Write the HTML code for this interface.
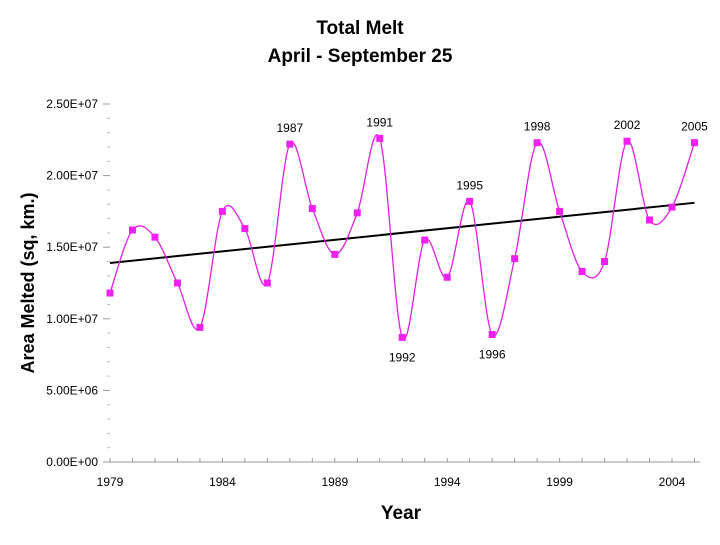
<!DOCTYPE html>
<html><head><meta charset="utf-8"><style>
body{margin:0;background:#fff;width:720px;height:540px;overflow:hidden}
text{font-family:"Liberation Sans",Arial,sans-serif}
</style></head><body>
<svg id="chart" width="720" height="540" viewBox="0 0 720 540">
<text x="360" y="34" text-anchor="middle" font-size="19" font-weight="bold">Total Melt</text>
<text x="360" y="62" text-anchor="middle" font-size="19" font-weight="bold">April - September 25</text>
<text transform="translate(34,283) rotate(-90)" text-anchor="middle" font-size="18" font-weight="bold">Area Melted (sq, km.)</text>
<text x="401" y="519" text-anchor="middle" font-size="19" font-weight="bold">Year</text>
<g id="axes"></g><g id="marks"></g>
</svg>
<script>
const years=[1979,1980,1981,1982,1983,1984,1985,1986,1987,1988,1989,1990,1991,1992,1993,1994,1995,1996,1997,1998,1999,2000,2001,2002,2003,2004,2005];
const melt=[11.8,16.2,15.7,12.5,9.4,17.5,16.3,12.5,22.2,17.7,14.5,17.4,22.6,8.7,15.5,12.9,18.2,8.9,14.2,22.3,17.5,13.3,14.0,22.4,16.9,17.8,22.3];
const labeledYears=[1987,1991,1995,1998,2002,2005,1992,1996];
const trend=[13.9,18.1];
const yTicks=[0,5,10,15,20,25];
const yTickLabels=["0.00E+00","5.00E+06","1.00E+07","1.50E+07","2.00E+07","2.50E+07"];
const xTicks=[1979,1984,1989,1994,1999,2004];
const NS="http://www.w3.org/2000/svg";
const X=v=>110+(v-1979)*22.48, Y=v=>462-v*14.32;
function mk(t,a,p){const e=document.createElementNS(NS,t);for(const k in a)e.setAttribute(k,a[k]);p.appendChild(e);return e;}
const ax=document.getElementById('axes'),mg=document.getElementById('marks');
let l=mk('line',{x1:103,y1:462,x2:700,y2:462,stroke:'#999','stroke-width':1},ax);


for(let i=0;i<yTicks.length;i++){
 const y=Y(yTicks[i]);
 let t=mk('line',{x1:103,y1:y,x2:110,y2:y,stroke:'#999'},ax);
 
 
 let tx=mk('text',{x:98,y:y+4,'text-anchor':'end','font-size':12},ax);tx.textContent=yTickLabels[i];
 
 
 if(i<yTicks.length-1)for(let k=1;k<5;k++){mk('line',{x1:107,y1:y-k*14.32,x2:110,y2:y-k*14.32,stroke:'#bbb'},ax);}
}
for(const yr of years){mk('line',{x1:X(yr),y1:458,x2:X(yr),y2:462,stroke:'#999'},ax);}
for(const yr of xTicks){
 let tx=mk('text',{x:X(yr),y:486,'text-anchor':'middle','font-size':12},ax);tx.textContent=yr;
 
 
}
// trend
let tr=mk('line',{x1:X(1979),y1:Y(trend[0]),x2:X(2005),y2:Y(trend[1]),stroke:'#000','stroke-width':2},mg);


// spline
const P=years.map((yr,i)=>[X(yr),Y(melt[i])]);
let d=`M${P[0][0]},${P[0][1]}`;
for(let i=0;i<P.length-1;i++){
 const p0=P[Math.max(0,i-1)],p1=P[i],p2=P[i+1],p3=P[Math.min(P.length-1,i+2)];
 d+=` C${p1[0]+(p2[0]-p0[0])/6},${p1[1]+(p2[1]-p0[1])/6} ${p2[0]-(p3[0]-p1[0])/6},${p2[1]-(p3[1]-p1[1])/6} ${p2[0]},${p2[1]}`;
}
let cv=mk('path',{d:d,fill:'none',stroke:'#e020e0','stroke-width':1.3},mg);


years.forEach((yr,i)=>{
 let r=mk('rect',{x:X(yr)-3.5,y:Y(melt[i])-3.5,width:7,height:7,fill:'#f020f0'},mg);
 
 
 if(labeledYears.includes(yr)){
  const low=melt[i]<12;
  let tx=mk('text',{x:X(yr),y:low?Y(melt[i])+24:Y(melt[i])-12,'text-anchor':'middle','font-size':12},mg);tx.textContent=yr;
  
  
 }
});
</script>
</body></html>
